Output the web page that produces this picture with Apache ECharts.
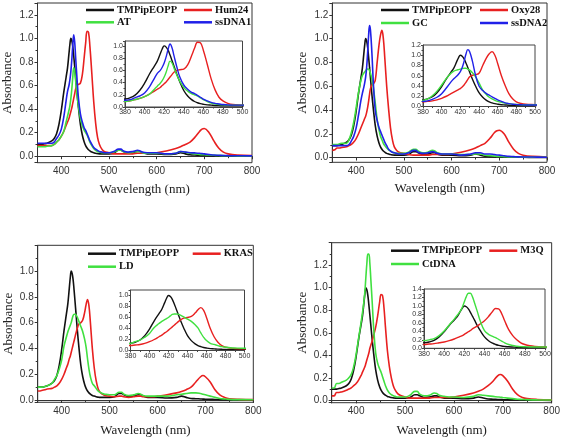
<!DOCTYPE html>
<html><head><meta charset="utf-8">
<script src="https://cdn.jsdelivr.net/npm/echarts@6/dist/echarts.min.js"></script>
<style>html,body{margin:0;padding:0;background:#fff}#c{width:563px;height:440px}</style>
</head><body><div id="c"></div>
<script>
// Wavelength grid (nm)
const W = [350,355,360,365,370,380,385,390,395,400,405,410,413,416,418,420,422,424,426,428,430,433,436,440,444,448,451,454,457,460,464,468,472,476,480,485,490,500,510,520,525,530,540,550,560,565,570,580,590,600,620,640,650,660,670,680,690,695,700,710,720,730,740,750,770,800];
// Absorbance values
const TMPIPEOPP = [0.10,0.10,0.10,0.105,0.11,0.13,0.15,0.19,0.27,0.39,0.54,0.67,0.75,0.87,0.95,1.00,0.98,0.93,0.85,0.76,0.67,0.53,0.41,0.27,0.18,0.12,0.09,0.07,0.055,0.045,0.035,0.03,0.025,0.022,0.02,0.02,0.02,0.02,0.025,0.05,0.05,0.04,0.025,0.03,0.04,0.04,0.03,0.02,0.02,0.02,0.015,0.02,0.03,0.02,0.012,0.01,0.008,0.007,0.006,0.005,0.004,0.003,0.002,0.002,0.001,0.0];
const HUM24 = [0.09,0.09,0.09,0.09,0.09,0.09,0.10,0.12,0.14,0.17,0.21,0.26,0.29,0.32,0.35,0.38,0.41,0.45,0.49,0.53,0.57,0.60,0.61,0.62,0.69,0.84,0.96,1.06,1.05,0.93,0.70,0.46,0.28,0.16,0.10,0.06,0.04,0.03,0.02,0.02,0.02,0.02,0.02,0.02,0.025,0.025,0.025,0.025,0.025,0.03,0.045,0.065,0.08,0.10,0.12,0.16,0.21,0.23,0.235,0.20,0.13,0.07,0.035,0.02,0.01,0.005];
const AT = [0.08,0.08,0.08,0.08,0.085,0.09,0.10,0.12,0.14,0.17,0.21,0.29,0.34,0.39,0.43,0.49,0.57,0.67,0.75,0.72,0.64,0.52,0.42,0.32,0.26,0.22,0.20,0.18,0.15,0.12,0.09,0.065,0.05,0.04,0.035,0.03,0.03,0.03,0.035,0.05,0.05,0.04,0.03,0.035,0.04,0.04,0.03,0.025,0.025,0.025,0.02,0.025,0.04,0.035,0.025,0.02,0.015,0.013,0.012,0.01,0.008,0.006,0.005,0.004,0.003,0.002];
const SSDNA1 = [0.11,0.11,0.11,0.11,0.11,0.11,0.12,0.15,0.18,0.23,0.33,0.47,0.55,0.60,0.65,0.72,0.82,0.94,1.03,0.97,0.84,0.65,0.49,0.36,0.29,0.24,0.22,0.19,0.16,0.13,0.10,0.075,0.06,0.05,0.04,0.035,0.03,0.03,0.04,0.06,0.06,0.045,0.035,0.04,0.05,0.045,0.035,0.03,0.03,0.03,0.02,0.025,0.04,0.035,0.03,0.028,0.025,0.022,0.02,0.015,0.01,0.008,0.006,0.005,0.004,0.003];
const OXY28 = [0.06,0.065,0.08,0.08,0.085,0.09,0.10,0.11,0.13,0.16,0.20,0.25,0.28,0.31,0.33,0.35,0.38,0.42,0.47,0.53,0.58,0.61,0.62,0.65,0.80,0.95,1.03,1.07,1.00,0.84,0.60,0.41,0.25,0.15,0.09,0.06,0.045,0.035,0.025,0.02,0.02,0.02,0.02,0.02,0.025,0.025,0.025,0.025,0.025,0.03,0.045,0.065,0.08,0.10,0.12,0.16,0.21,0.225,0.23,0.20,0.13,0.07,0.035,0.02,0.01,0.005];
const GC = [0.11,0.11,0.11,0.115,0.12,0.12,0.15,0.21,0.30,0.42,0.55,0.65,0.69,0.71,0.72,0.73,0.74,0.745,0.745,0.73,0.71,0.66,0.59,0.46,0.32,0.23,0.18,0.15,0.12,0.10,0.08,0.065,0.055,0.045,0.04,0.035,0.035,0.035,0.045,0.07,0.07,0.055,0.04,0.045,0.06,0.055,0.04,0.03,0.03,0.03,0.025,0.025,0.03,0.03,0.02,0.015,0.012,0.01,0.01,0.008,0.006,0.005,0.004,0.003,0.002,0.002];
const SSDNA2 = [0.10,0.10,0.10,0.10,0.10,0.10,0.11,0.14,0.18,0.25,0.36,0.48,0.54,0.59,0.63,0.68,0.76,0.88,1.02,1.11,1.07,0.88,0.63,0.40,0.31,0.25,0.22,0.19,0.16,0.13,0.10,0.07,0.055,0.045,0.04,0.035,0.03,0.03,0.04,0.06,0.06,0.045,0.035,0.04,0.05,0.045,0.035,0.03,0.03,0.03,0.02,0.03,0.04,0.04,0.03,0.03,0.025,0.022,0.02,0.015,0.01,0.008,0.006,0.005,0.004,0.003];
const KRAS = [0.07,0.07,0.075,0.08,0.085,0.09,0.10,0.11,0.13,0.16,0.20,0.25,0.28,0.32,0.34,0.37,0.40,0.43,0.46,0.49,0.52,0.56,0.59,0.60,0.62,0.68,0.74,0.78,0.73,0.60,0.40,0.25,0.15,0.09,0.06,0.045,0.035,0.03,0.025,0.03,0.03,0.025,0.02,0.025,0.03,0.03,0.025,0.025,0.025,0.03,0.04,0.055,0.065,0.08,0.10,0.14,0.18,0.19,0.18,0.14,0.08,0.04,0.02,0.01,0.005,0.003];
const LD = [0.10,0.10,0.10,0.105,0.11,0.13,0.16,0.19,0.24,0.31,0.42,0.49,0.53,0.56,0.58,0.60,0.63,0.655,0.665,0.665,0.66,0.64,0.61,0.57,0.53,0.47,0.41,0.32,0.24,0.18,0.13,0.11,0.09,0.07,0.06,0.05,0.045,0.04,0.04,0.06,0.06,0.045,0.035,0.04,0.05,0.045,0.035,0.03,0.03,0.03,0.03,0.04,0.045,0.05,0.055,0.055,0.05,0.045,0.04,0.03,0.02,0.012,0.008,0.005,0.003,0.002];
const M3Q = [0.04,0.04,0.07,0.07,0.075,0.09,0.10,0.11,0.13,0.15,0.18,0.22,0.25,0.28,0.30,0.33,0.36,0.39,0.42,0.46,0.49,0.53,0.58,0.65,0.75,0.87,0.94,0.93,0.82,0.65,0.44,0.30,0.20,0.13,0.09,0.06,0.045,0.03,0.02,0.02,0.02,0.02,0.02,0.02,0.025,0.025,0.025,0.025,0.025,0.03,0.045,0.065,0.08,0.10,0.13,0.17,0.22,0.23,0.22,0.17,0.10,0.05,0.025,0.015,0.008,0.004];
const CTDNA = [0.11,0.11,0.15,0.15,0.16,0.18,0.20,0.23,0.30,0.41,0.55,0.69,0.78,0.88,0.97,1.10,1.22,1.30,1.30,1.22,1.08,0.86,0.63,0.42,0.33,0.28,0.25,0.21,0.17,0.13,0.09,0.065,0.05,0.04,0.035,0.03,0.03,0.03,0.045,0.08,0.08,0.055,0.04,0.045,0.065,0.06,0.045,0.035,0.03,0.03,0.025,0.035,0.05,0.045,0.04,0.035,0.03,0.028,0.025,0.02,0.015,0.01,0.008,0.006,0.004,0.003];

const COL = {k:'#111111', r:'#e82020', g:'#40e040', b:'#2020e8'};

const panels = [
  {grid:{left:37.5,top:3,width:214.5,height:159.7}, ymin:-0.055, ymax:1.3, split:7,
   inset:{left:125,top:41,width:117.5,height:66}, imax:1.08,
   lines:[['TMPipEOPP',TMPIPEOPP,'k'],['Hum24',HUM24,'r'],['AT',AT,'g'],['ssDNA1',SSDNA1,'b']],
   leg:[[86,11],[184,11],[86,23.3],[184,23.3]], nameX:[20,23]},
  {grid:{left:332.3,top:3,width:214.7,height:159.3}, ymin:-0.04, ymax:1.3, split:7,
   inset:{left:423,top:45,width:112,height:61.5}, imax:1.2,
   lines:[['TMPipEOPP',TMPIPEOPP,'k'],['Oxy28',OXY28,'r'],['GC',GC,'g'],['ssDNA2',SSDNA2,'b']],
   leg:[[381,11],[480,11],[381,24],[480,24]], nameX:[20,23]},
  {grid:{left:37.7,top:245.3,width:215.6,height:157}, ymin:-0.018, ymax:1.2, split:6,
   inset:{left:130.5,top:290,width:114,height:60.5}, imax:1.1,
   lines:[['TMPipEOPP',TMPIPEOPP,'k'],['KRAS',KRAS,'r'],['LD',LD,'g']],
   leg:[[88,254.7],[192.7,254.7],[88,267.7]], nameX:[22,23]},
  {grid:{left:331.7,top:242.7,width:220,height:160}, ymin:-0.021, ymax:1.4, split:7,
   inset:{left:424,top:289,width:121,height:59.3}, imax:1.4,
   lines:[['TMPipEOPP',TMPIPEOPP,'k'],['M3Q',M3Q,'r'],['CtDNA',CTDNA,'g']],
   leg:[[391,251.7],[489.3,251.7],[391,265]], nameX:[21,23]}
];

const SANS = 'Liberation Sans, Arial, sans-serif';
const SERIF = 'Liberation Serif, Times New Roman, serif';
const grid = [], xAxis = [], yAxis = [], series = [], legend = [];
const pairs = arr => W.map((w,i)=>[w,arr[i]]);

panels.forEach((p, pi) => {
  const gi = grid.length;
  grid.push(Object.assign({show:true, borderColor:'#333', borderWidth:1, backgroundColor:'transparent', containLabel:false}, p.grid));
  grid.push(Object.assign({show:true, borderColor:'#444', borderWidth:1, backgroundColor:'#fff', containLabel:false, z:3}, p.inset));
  xAxis.push({type:'value', gridIndex:gi, min:350, max:800, splitNumber:5,
    name:'Wavelength (nm)', nameLocation:'middle', nameGap:p.nameX[0],
    nameTextStyle:{fontFamily:SERIF, fontSize:13, color:'#222'},
    axisLine:{lineStyle:{color:'#333', width:1}},
    axisTick:{show:true, inside:false, length:3, lineStyle:{color:'#333'}},
    minorTick:{show:true, splitNumber:2, length:2, lineStyle:{color:'#333'}},
    splitLine:{show:false},
    axisLabel:{fontFamily:SANS, fontSize:10, color:'#333', margin:4, showMinLabel:false}});
  yAxis.push({type:'value', gridIndex:gi, min:p.ymin, max:p.ymax, splitNumber:p.split,
    name:'Absorbance', nameLocation:'middle', nameGap:p.nameX[1],
    nameTextStyle:{fontFamily:SERIF, fontSize:13, color:'#222'},
    axisLine:{show:true, lineStyle:{color:'#333', width:1}},
    axisTick:{show:true, inside:false, length:3, lineStyle:{color:'#333'}},
    minorTick:{show:true, splitNumber:2, length:2, lineStyle:{color:'#333'}},
    splitLine:{show:false},
    axisLabel:{fontFamily:SANS, fontSize:10, color:'#333', margin:4, showMinLabel:false, showMaxLabel:false,
      formatter:v=>v.toFixed(1)}});
  xAxis.push({type:'value', gridIndex:gi+1, min:380, max:500, interval:20, z:4,
    axisLine:{lineStyle:{color:'#444', width:1}},
    axisTick:{show:true, length:2, lineStyle:{color:'#444'}},
    minorTick:{show:true, splitNumber:2, length:1.5, lineStyle:{color:'#444'}},
    splitLine:{show:false},
    axisLabel:{fontFamily:SANS, fontSize:7, color:'#333', margin:2}});
  yAxis.push({type:'value', gridIndex:gi+1, min:0, max:p.imax, interval:0.2, z:4,
    axisLine:{show:true, lineStyle:{color:'#444', width:1}},
    axisTick:{show:true, length:2, lineStyle:{color:'#444'}},
    minorTick:{show:true, splitNumber:2, length:1.5, lineStyle:{color:'#444'}},
    splitLine:{show:false},
    axisLabel:{fontFamily:SANS, fontSize:7, color:'#333', margin:2, showMaxLabel:(p.imax===1.2||p.imax===1.4),
      formatter:v=>v.toFixed(1)}});
  p.lines.forEach(([name, arr, c]) => {
    const col = COL[c];
    series.push({type:'line', name, xAxisIndex:gi, yAxisIndex:gi, data:pairs(arr), smooth:0.4,
      symbol:'none', showSymbol:false, itemStyle:{color:col}, lineStyle:{color:col, width:1.6}, z:2, animation:false});
    series.push({type:'line', name, xAxisIndex:gi+1, yAxisIndex:gi+1, data:pairs(arr), smooth:0.4, clip:true,
      symbol:'none', showSymbol:false, itemStyle:{color:col}, lineStyle:{color:col, width:1.4}, z:5, animation:false});
  });
  p.lines.forEach(([name], li) => {
    const [lx, ly] = p.leg[li];
    legend.push({data:[name], left:lx, top:ly-6.5, padding:0, icon:'rect', itemWidth:28, itemHeight:2.5,
      selectedMode:false, textStyle:{fontFamily:SERIF, fontWeight:'bold', fontSize:10.5, color:'#111', padding:[0,0,0,-2]}});
  });
});

const chart = echarts.init(document.getElementById('c'), null, {renderer:'canvas'});
chart.setOption({animation:false, backgroundColor:'#fff', grid, xAxis, yAxis, series, legend});
</script></body></html>
